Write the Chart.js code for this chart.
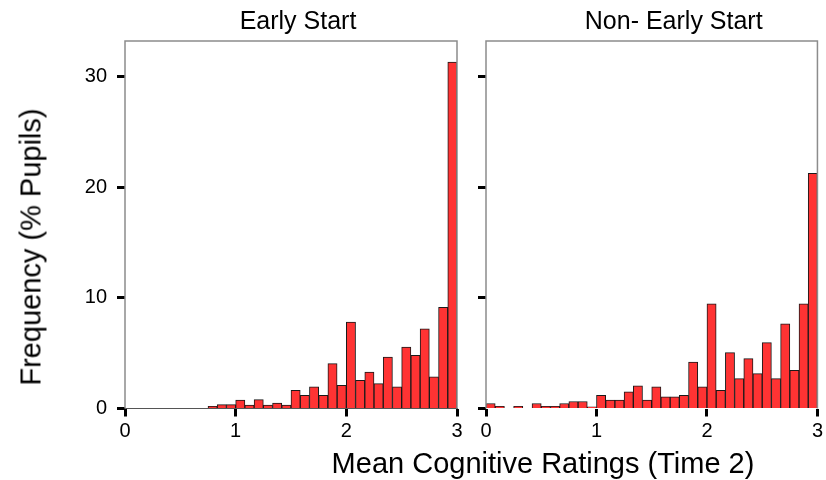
<!DOCTYPE html>
<html>
<head>
<meta charset="utf-8">
<script src="https://cdn.jsdelivr.net/npm/chart.js@4"></script>
<style>
  body { margin: 0; background: #fff; }
  #wrap { position: relative; width: 826px; height: 480px; font-family: "Liberation Sans", Arial, sans-serif; }
  #left { position: absolute; left: 0; top: 0; }
  #right { position: absolute; left: 470px; top: 0; }
  .lab { position: absolute; color: #000; font-size: 29px; white-space: nowrap; }
  #xlab { left: 543px; top: 463px; transform: translate(-50%, -50%); }
  #ylab { left: 31px; top: 247px; transform: translate(-50%, -50%) rotate(-90deg); }
</style>
</head>
<body>
<div id="wrap">
  <canvas id="left" width="470" height="480"></canvas>
  <canvas id="right" width="356" height="480"></canvas>
  <div class="lab" id="xlab">Mean Cognitive Ratings (Time 2)</div>
  <div class="lab" id="ylab">Frequency (% Pupils)</div>
</div>
<script>
// histogram bins: 36 bins of width 1/12 from 0 to 3
const binCount = 36;
const binCenters = Array.from({length: binCount}, (_, i) => (i + 0.5) / 12);

const earlyStart = [
  0, 0, 0, 0, 0, 0, 0, 0, 0, 0.2, 0.35, 0.35,
  0.75, 0.3, 0.8, 0.3, 0.5, 0.3, 1.65, 1.2, 1.95, 1.2, 4.05, 2.1,
  7.8, 2.55, 3.3, 2.25, 4.65, 1.95, 5.55, 4.8, 7.2, 2.85, 9.15, 31.3
];
const nonEarlyStart = [
  0.45, 0.2, 0, 0.2, 0, 0.45, 0.2, 0.2, 0.45, 0.63, 0.63, 0.15,
  1.2, 0.75, 0.75, 1.5, 2.05, 0.75, 1.95, 1.05, 1.05, 1.2, 4.2, 1.95,
  9.45, 1.65, 5.05, 2.7, 4.5, 3.15, 5.95, 2.7, 7.65, 3.45, 9.45, 21.25
];
const xTicks = [0, 1, 2, 3];
const yTicks = [0, 10, 20, 30];

const FONT = "'Liberation Sans', Arial, sans-serif";

// gray frame on top, left and right of the plot area + panel title
const framePlugin = {
  id: 'frame',
  afterDatasetsDraw(chart, args, opts) {
    const a = chart.chartArea, ctx = chart.ctx;
    ctx.save();
    ctx.strokeStyle = '#8c8c8c';
    ctx.lineWidth = 1.5;
    ctx.beginPath();
    ctx.moveTo(a.left, a.bottom);
    ctx.lineTo(a.left, a.top);
    ctx.lineTo(a.right, a.top);
    ctx.lineTo(a.right, a.bottom);
    ctx.stroke();

    ctx.fillStyle = '#000';
    ctx.font = '25px ' + FONT;
    ctx.textAlign = 'center';
    ctx.textBaseline = 'middle';
    ctx.fillText(opts.text, (a.left + a.right) / 2 + opts.dx, 22);
    ctx.restore();
  }
};

function makePanel(id, title, values, opts) {
  return new Chart(document.getElementById(id), {
    type: 'bar',
    data: {
      datasets: [{
        data: binCenters.map((x, i) => ({x: x, y: values[i]})),
        backgroundColor: '#ff3333',
        borderColor: '#1a1a1a',
        borderWidth: 1,
        borderSkipped: 'bottom',
        barPercentage: 1,
        categoryPercentage: 1
      }]
    },
    options: {
      responsive: false,
      animation: false,
      layout: {padding: {left: 0, right: opts.padRight, top: 41, bottom: 0}},
      plugins: {
        legend: {display: false},
        tooltip: {enabled: false},
        title: {display: false},
        frame: {text: title, dx: opts.titleDx}
      },
      scales: {
        x: {
          type: 'linear',
          min: 0, max: 3,
          offset: false,
          afterBuildTicks: s => { s.ticks = xTicks.map(v => ({value: v})); },
          afterFit: s => { s.height = 71.5; },
          border: {display: opts.baseline, color: '#555', width: 1},
          grid: {offset: false, drawOnChartArea: false, drawTicks: true, tickLength: 8, tickWidth: 3, tickColor: '#000'},
          ticks: {color: '#000', font: {family: FONT, size: 20}, padding: 3, maxRotation: 0}
        },
        y: {
          min: 0, max: 33.2,
          afterBuildTicks: s => { s.ticks = yTicks.map(v => ({value: v})); },
          afterFit: s => { s.width = opts.yWidth; },
          border: {display: false},
          grid: {drawOnChartArea: false, drawTicks: true, tickLength: 8, tickWidth: 3, tickColor: '#000'},
          ticks: {display: opts.yLabels, color: '#000', font: {family: FONT, size: 20}, padding: 10}
        }
      }
    },
    plugins: [framePlugin]
  });
}

makePanel('left', 'Early Start', earlyStart, {padRight: 13, yWidth: 125, yLabels: true, baseline: true, titleDx: 7});
makePanel('right', 'Non- Early Start', nonEarlyStart, {padRight: 7, yWidth: 16, yLabels: false, baseline: false, titleDx: 22});
</script>
</body>
</html>
